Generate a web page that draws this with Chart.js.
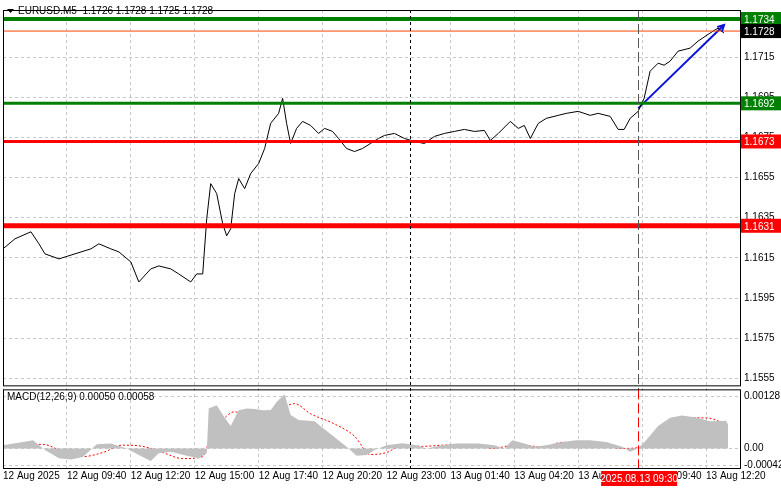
<!DOCTYPE html>
<html>
<head>
<meta charset="utf-8">
<script src="https://cdn.jsdelivr.net/npm/chart.js@4.4.0/dist/chart.umd.min.js"></script>
<style>
  html, body { margin: 0; padding: 0; background: #fff; }
  #wrap { width: 781px; height: 489px; position: relative; }
</style>
</head>
<body>
<div id="wrap"><canvas id="chart"></canvas></div>
<script>
// price path (bar index, close)
const priceBars = [0,6,14,18,21,28,36,44,48,54,58,64,68,74,78,84,88,94,97,100,102,104,107,110,112,114,116,118,121,124,128,131,134,138,140,142,144,147,150,154,158,161,165,168,172,176,180,184,188,191,196,201,206,211,216,221,226,231,236,241,244,248,254,258,261,264,268,272,278,282,288,294,298,304,308,311,314,318,321,324,328,331,334,338,344,348,354,358,361];
const priceValues = [1.16195,1.16245,1.1628,1.1622,1.1617,1.16145,1.1617,1.16195,1.1622,1.16195,1.1618,1.1613,1.1603,1.16095,1.1611,1.16095,1.1607,1.1603,1.1607,1.1607,1.16345,1.1652,1.1647,1.1632,1.1626,1.16295,1.1647,1.16545,1.16495,1.1657,1.1662,1.16695,1.1682,1.1687,1.16945,1.1682,1.1672,1.16795,1.1683,1.1681,1.1677,1.16795,1.1678,1.16745,1.16695,1.1668,1.16695,1.1672,1.16745,1.1676,1.1677,1.16745,1.1673,1.1672,1.16755,1.1677,1.1678,1.1679,1.1678,1.16785,1.16735,1.1677,1.1683,1.16795,1.1681,1.16745,1.1682,1.16845,1.1686,1.1687,1.1688,1.1686,1.1687,1.16855,1.1679,1.1679,1.16845,1.1688,1.16945,1.1708,1.1712,1.1711,1.1713,1.1718,1.17195,1.1723,1.1727,1.17295,1.1727];

// MACD histogram and signal
const histBars = [0,10,15,21,28,34,40,47,54,62,68,74,78,84,92,98,102,103,107,111,114,118,122,126,130,134,137,141,144,148,156,160,167,172,177,182,186,192,200,207,212,220,227,238,246,251,255,261,266,272,280,287,294,302,310,314,318,322,328,334,340,347,354,362,363];
const histValues = [0.00008,0.00016,0.0002,-0.00004,-0.00024,-0.00027,-0.00021,0.0001,0.00012,0,-0.00016,-0.00031,-0.00012,-0.00008,-0.00018,-0.00024,-0.00012,0.00098,0.00106,0.00075,0.00055,0.00094,0.00098,0.00097,0.00094,0.00094,0.00114,0.00133,0.00082,0.0007,0.00067,0.00051,0.00024,0.00004,-0.00018,-0.00016,-0.00004,0.00008,0.00013,0.00008,0,0.00008,0.00012,0.00012,0.00008,0,0.0002,0.00012,0.00004,0.00008,0.00016,0.0002,0.0002,0.00016,0.00004,-0.00008,0,0.0002,0.00055,0.00075,0.00081,0.00076,0.00067,0.00068,0.00059];
const signalBars = [0,10,20,30,40,50,60,70,80,90,100,104,110,116,122,130,138,146,154,166,176,184,192,200,210,220,235,245,258,270,280,295,310,318,330,340,352,362];
const signalValues = [0.00003,0.00008,0.0001,-0.00008,-0.0002,-0.0001,0.00008,0.00005,-0.0001,-0.00025,-0.0002,0.0003,0.0007,0.0009,0.0008,0.0009,0.00095,0.0011,0.00085,0.0006,0.0003,-0.00015,-0.0001,0.00008,0.00005,0.00008,0.00009,0,0.0001,0.00003,0.00015,0.00012,0,0.00002,0.00045,0.00075,0.00075,0.0006];

// levels drawn on the chart
const levelValues = [1.1734, 1.1728, 1.1692, 1.1673, 1.1631];
const levelColors = ['#008000', '#ff4500', '#008000', '#ff0000', '#ff0000'];
const levelWidths = [4, 1, 3, 3, 5];
const levelBoxColors = ['#008000', '#000000', '#008000', '#ff0000', '#ff0000'];
const arrowBars = [318, 361];
const arrowValues = [1.16895, 1.1731];
const vlineBars = [204, 318];

const xTickBars = [0,32,64,96,128,160,192,224,256,288,320,352];
const xTickLabels = ['12 Aug 2025','12 Aug 09:40','12 Aug 12:20','12 Aug 15:00','12 Aug 17:40','12 Aug 20:20','12 Aug 23:00','13 Aug 01:40','13 Aug 04:20','13 Aug 07:00','13 Aug 09:40','13 Aug 12:20'];
const priceTicks = [1.1715,1.1695,1.1675,1.1655,1.1635,1.1615,1.1595,1.1575,1.1555];
const macdTicks = [0.00128, 0, -0.00042];

const FONT = '10px "Liberation Sans", "DejaVu Sans", sans-serif';
const pts = (xs, ys) => xs.map((x, i) => ({ x: x, y: ys[i] }));

const datasets = [];
levelValues.forEach((v, i) => {
  datasets.push({
    data: [{ x: 0, y: v }, { x: 369, y: v }], yAxisID: 'y',
    borderColor: levelColors[i], borderWidth: levelWidths[i], pointRadius: 0
  });
});
datasets.push({ data: pts(priceBars, priceValues), yAxisID: 'y', borderColor: '#000', borderWidth: 1, pointRadius: 0, tension: 0 });
datasets.push({ data: pts(arrowBars, arrowValues), yAxisID: 'y', borderColor: '#0a14d8', borderWidth: 2, pointRadius: 0 });
datasets.push({ data: pts(histBars, histValues), yAxisID: 'y2', borderWidth: 0, pointRadius: 0, fill: 'origin', backgroundColor: '#c0c0c0' });
datasets.push({ data: pts(signalBars, signalValues), yAxisID: 'y2', borderColor: '#ff0000', borderWidth: 1, borderDash: [2, 2], pointRadius: 0, cubicInterpolationMode: 'monotone' });

const overlay = {
  id: 'overlay',
  afterDatasetsDraw(chart) {
    const ctx = chart.ctx, x = chart.scales.x, y = chart.scales.y, y2 = chart.scales.y2;
    const L = chart.chartArea.left, R = chart.chartArea.right;
    ctx.save();
    // vertical lines
    ctx.lineWidth = 1;
    ctx.strokeStyle = '#000'; ctx.setLineDash([3, 3]);
    let px = Math.round(x.getPixelForValue(vlineBars[0])) + 0.5;
    ctx.beginPath(); ctx.moveTo(px, y.top); ctx.lineTo(px, y2.bottom); ctx.stroke();
    px = Math.round(x.getPixelForValue(vlineBars[1])) + 0.5;
    ctx.strokeStyle = '#555'; ctx.setLineDash([10, 4]);
    ctx.beginPath(); ctx.moveTo(px, y.top); ctx.lineTo(px, y.bottom); ctx.stroke();
    ctx.strokeStyle = '#ff0000';
    ctx.beginPath(); ctx.moveTo(px, y2.top); ctx.lineTo(px, y2.bottom); ctx.stroke();
    ctx.setLineDash([]);
    // arrow head
    const ax0 = x.getPixelForValue(arrowBars[0]), ay0 = y.getPixelForValue(arrowValues[0]);
    const ax1 = x.getPixelForValue(arrowBars[1]), ay1 = y.getPixelForValue(arrowValues[1]);
    const ang = Math.atan2(ay1 - ay0, ax1 - ax0);
    ctx.strokeStyle = '#0a14d8'; ctx.lineWidth = 2;
    ctx.beginPath();
    ctx.moveTo(ax1 - 7 * Math.cos(ang - 0.5), ay1 - 7 * Math.sin(ang - 0.5));
    ctx.lineTo(ax1, ay1);
    ctx.lineTo(ax1 - 7 * Math.cos(ang + 0.5), ay1 - 7 * Math.sin(ang + 0.5));
    ctx.stroke();
    // panel frames
    ctx.strokeStyle = '#000'; ctx.lineWidth = 1;
    ctx.strokeRect(L + 0.5, y.top + 0.5, R - L, y.bottom - y.top - 4);
    ctx.strokeRect(L + 0.5, y2.top + 0.5, R - L, y2.bottom - y2.top);
    // price boxes
    ctx.font = FONT; ctx.textBaseline = 'middle'; ctx.textAlign = 'left';
    levelValues.forEach((v, i) => {
      const py = y.getPixelForValue(v);
      ctx.fillStyle = levelBoxColors[i];
      ctx.fillRect(R + 1, py - 7, 40, 14);
      ctx.fillStyle = '#fff';
      ctx.fillText(v.toFixed(4), R + 4, py + 1);
    });
    // titles
    ctx.fillStyle = '#000';
    ctx.beginPath(); ctx.moveTo(7, 9); ctx.lineTo(14, 9); ctx.lineTo(10.5, 13); ctx.fill();
    ctx.fillText('EURUSD.M5  1.1726 1.1728 1.1725 1.1728', 18, 11);
    ctx.fillText('MACD(12,26,9) 0.00050 0.00058', 7, y2.top + 8);
    // cursor time label
    const tx = x.getPixelForValue(vlineBars[1]);
    ctx.fillStyle = '#ff0000';
    ctx.fillRect(tx - 37, y2.bottom + 3, 76, 15);
    ctx.fillStyle = '#fff'; ctx.textAlign = 'center';
    ctx.fillText('2025.08.13 09:30', tx + 1, y2.bottom + 11);
    ctx.restore();
  }
};

const gridStyle = { color: '#c8c8c8', drawTicks: false };
const borderStyle = { display: false, dash: [3, 3] };

new Chart(document.getElementById('chart'), {
  type: 'line',
  data: { datasets: datasets },
  plugins: [overlay],
  options: {
    responsive: true, maintainAspectRatio: false, animation: false,
    layout: { padding: { left: 3, top: 7, right: 0, bottom: 0 } },
    plugins: { legend: { display: false }, tooltip: { enabled: false } },
    scales: {
      x: {
        type: 'linear', min: 0, max: 369,
        afterBuildTicks: s => { s.ticks = xTickBars.map(v => ({ value: v })); },
        afterFit: s => { s.height = 21; },
        ticks: { font: { size: 10, family: '"Liberation Sans", sans-serif' }, color: '#000', maxRotation: 0, align: 'start', padding: 2,
          callback: v => xTickLabels[xTickBars.indexOf(v)] },
        grid: gridStyle,
        border: borderStyle
      },
      y: {
        type: 'linear', position: 'right', stack: 'panes', stackWeight: 381,
        min: 1.15495, max: 1.17385,
        afterBuildTicks: s => { s.ticks = priceTicks.map(v => ({ value: v })); },
        afterFit: s => { s.width = 41; },
        ticks: { font: { size: 10, family: '"Liberation Sans", sans-serif' }, color: '#000', padding: 4, callback: v => v.toFixed(4) },
        grid: gridStyle,
        border: borderStyle
      },
      y2: {
        type: 'linear', position: 'right', stack: 'panes', stackWeight: 79,
        min: -0.00048, max: 0.00145, offset: false,
        afterBuildTicks: s => { s.ticks = macdTicks.map(v => ({ value: v })); },
        afterFit: s => { s.width = 41; },
        ticks: { font: { size: 10, family: '"Liberation Sans", sans-serif' }, color: '#000', padding: 4,
          callback: v => v === 0 ? '0.00' : v.toFixed(5) },
        grid: gridStyle,
        border: borderStyle
      }
    }
  }
});
</script>
</body>
</html>
